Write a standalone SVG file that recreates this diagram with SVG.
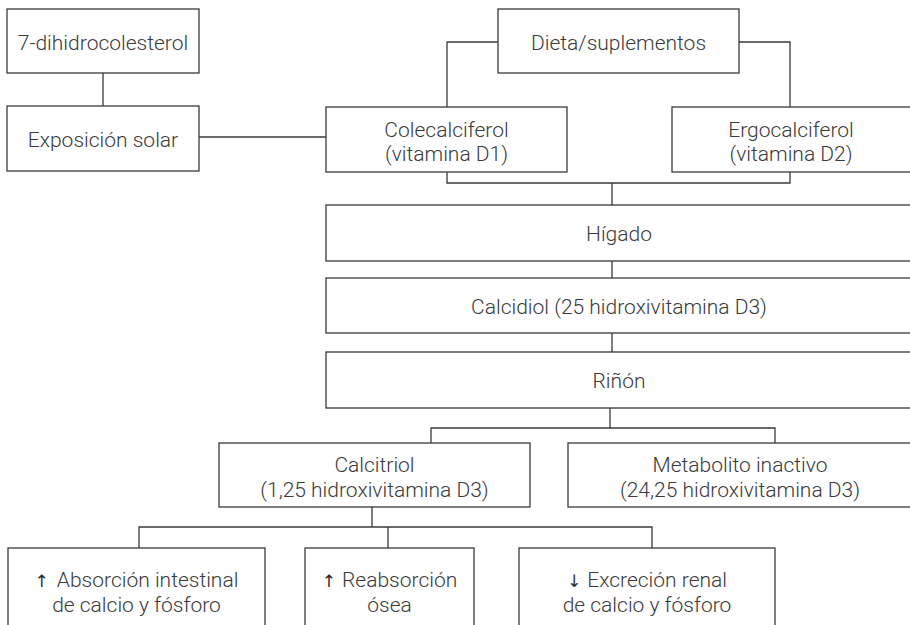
<svg xmlns="http://www.w3.org/2000/svg" width="910" height="625" viewBox="0 0 910 625">
<style>
.box{fill:#fff;stroke:#3a3a3a;stroke-width:1.3}
.ln{fill:none;stroke:#3a3a3a;stroke-width:1.3}
text{font-family:Roboto,"Liberation Sans",sans-serif;font-weight:300;font-size:21px;fill:#3a3a3a;text-anchor:middle}
.ar{font-family:"DejaVu Sans",sans-serif;font-weight:400;font-size:17px;fill:#2a2a2a}
</style>
<rect width="910" height="625" fill="#fff"/>
<g id="connectors">
<path class="ln" d="M103 73V106"/>
<path class="ln" d="M199 137H326"/>
<path class="ln" d="M498 42H447V107"/>
<path class="ln" d="M739 42H790V107"/>
<path class="ln" d="M447 172V183H790V172M612 183V205"/>
<path class="ln" d="M612 261V278M612 333V352"/>
<path class="ln" d="M610 408V428M431 443V428H775V443"/>
<path class="ln" d="M372 507V527M139 548V527H652V548M388 527V548"/>
</g>
<g id="n1"><rect class="box" x="7" y="9" width="192" height="64"/><text x="103" y="49.5">7-dihidrocolesterol</text></g>
<g id="n2"><rect class="box" x="7" y="106" width="192" height="65"/><text x="103" y="147">Exposición solar</text></g>
<g id="n3"><rect class="box" x="498" y="9" width="241" height="64"/><text x="618.5" y="50">Dieta/suplementos</text></g>
<g id="n4"><rect class="box" x="326" y="107" width="241" height="65"/><text x="446.5" y="136.5">Colecalciferol</text><text x="446.5" y="161">(vitamina D1)</text></g>
<g id="n5"><rect class="box" x="672" y="107" width="245" height="65"/><text x="791" y="136.5">Ergocalciferol</text><text x="791" y="161">(vitamina D2)</text></g>
<g id="n6"><rect class="box" x="326" y="205" width="591" height="56"/><text x="619" y="241">Hígado</text></g>
<g id="n7"><rect class="box" x="326" y="278" width="591" height="55"/><text x="619" y="313.5">Calcidiol (25 hidroxivitamina D3)</text></g>
<g id="n8"><rect class="box" x="326" y="352" width="591" height="56"/><text x="619" y="388">Riñón</text></g>
<g id="n9"><rect class="box" x="219" y="443" width="311" height="64"/><text x="374.5" y="472">Calcitriol</text><text x="374.5" y="496.5">(1,25 hidroxivitamina D3)</text></g>
<g id="n10"><rect class="box" x="568" y="443" width="349" height="64"/><text x="740" y="472">Metabolito inactivo</text><text x="740" y="496.5">(24,25 hidroxivitamina D3)</text></g>
<g id="n11"><rect class="box" x="8" y="548" width="257" height="90"/><text x="136.5" y="586.5"><tspan class="ar">↑</tspan><tspan dx="8">Absorción intestinal</tspan></text><text x="136.5" y="611.5">de calcio y fósforo</text></g>
<g id="n12"><rect class="box" x="305" y="548" width="169" height="90"/><text x="389.5" y="586.5"><tspan class="ar">↑</tspan><tspan dx="6">Reabsorción</tspan></text><text x="389.5" y="611.5">ósea</text></g>
<g id="n13"><rect class="box" x="519" y="548" width="256" height="90"/><text x="647" y="586.5"><tspan class="ar">↓</tspan><tspan dx="6">Excreción renal</tspan></text><text x="647" y="611.5">de calcio y fósforo</text></g>
</svg>
